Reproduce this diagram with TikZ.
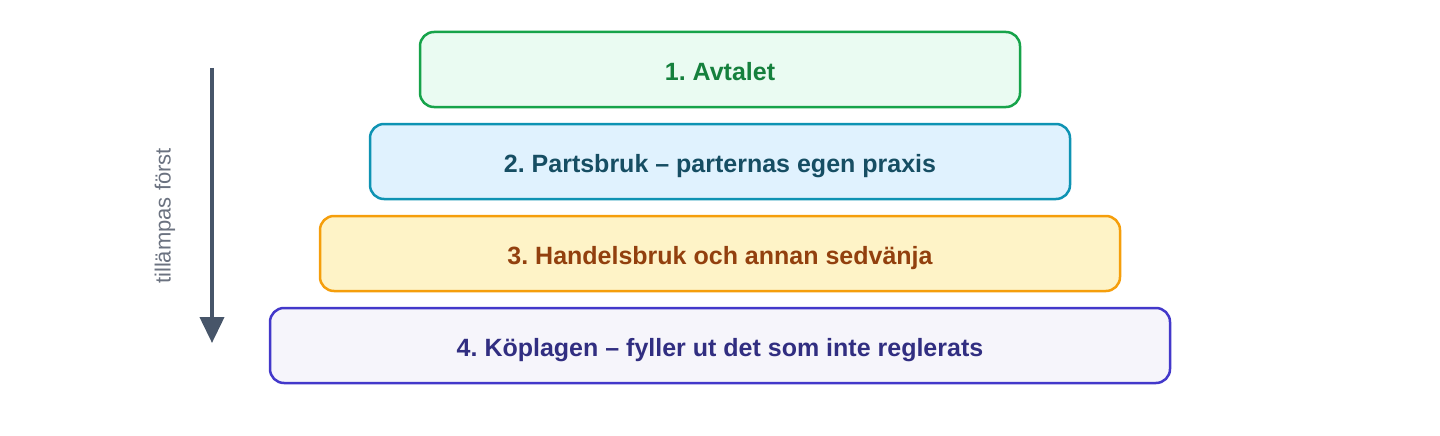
\documentclass[tikz,border=0pt]{standalone}
\usepackage{fontspec}
\setmainfont{Liberation Sans}
\usetikzlibrary{arrows.meta}
\frenchspacing
\definecolor{gB}{HTML}{16A34A}\definecolor{gF}{HTML}{EAFBF2}\definecolor{gT}{HTML}{15803D}
\definecolor{cB}{HTML}{0E93B3}\definecolor{cF}{HTML}{E0F2FE}\definecolor{cT}{HTML}{164E63}
\definecolor{oB}{HTML}{F59E0B}\definecolor{oF}{HTML}{FEF3C7}\definecolor{oT}{HTML}{92400E}
\definecolor{pB}{HTML}{4338CA}\definecolor{pF}{HTML}{F6F5FB}\definecolor{pT}{HTML}{312E81}
\definecolor{arr}{HTML}{475569}\definecolor{lbl}{HTML}{6B7280}
\begin{document}
\begin{tikzpicture}[x=1pt,y=-1pt,
  tier/.style={draw=#1B,fill=#1F,text=#1T,line width=2.5pt,rounded corners=14pt,
    minimum height=75pt,inner sep=0pt,text height=22.4pt,text depth=0pt,
    font=\fontsize{25}{30}\selectfont\bfseries\frenchspacing}]
\useasboundingbox (0,0) rectangle (1440,436);
\node[tier=g,minimum width=600pt] (t1) at (720,69.5) {1. Avtalet};
\node[tier=c,minimum width=700pt] (t2) at (720,161.5) {2. Partsbruk – parternas egen praxis};
\node[tier=o,minimum width=800pt] (t3) at (720,253.5) {3. Handelsbruk och annan sedvänja};
\node[tier=p,minimum width=900pt] (t4) at (720,345.5) {4. Köplagen – fyller ut det som inte reglerats};
\coordinate (a1) at (212,68);
\coordinate (a2) at (212,343);
\draw[arr,line width=4pt,-{Triangle[length=26pt,width=24pt]}] (a1) -- (a2);
\node[text=lbl,rotate=90,font=\fontsize{22}{26}\selectfont] (lab) at (165,216) {tillämpas först};
\end{tikzpicture}
\end{document}
